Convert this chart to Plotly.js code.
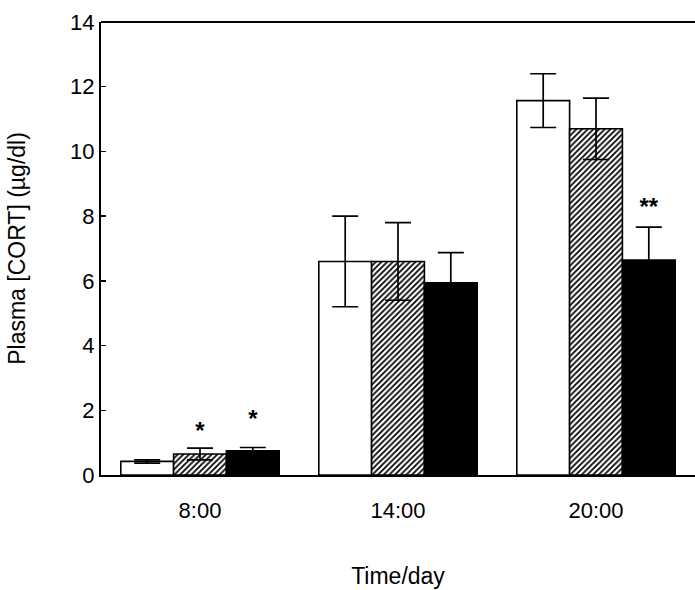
<!DOCTYPE html>
<html>
<head>
<meta charset="utf-8">
<script src="https://cdn.plot.ly/plotly-3.0.1.min.js"></script>
<style>html,body{margin:0;padding:0;background:#fff;}#chart{width:695px;height:590px;}</style>
</head>
<body>
<div id="chart"></div>
<script>
// Data
const categories = ["8:00", "14:00", "20:00"];
const seriesNames = ["Control", "Group B", "Group C"];
const whiteVals = [0.42, 6.6, 11.57];
const whiteErr = [0.05, 1.4, 0.83];
const hatchVals = [0.65, 6.6, 10.7];
const hatchErr = [0.18, 1.2, 0.95];
const blackVals = [0.75, 5.94, 6.64];
const blackErr = [0.1, 0.93, 1.02];
const sigWhiteY = [null, null, null];
const sigWhiteText = ["", "", ""];
const sigHatchY = [1.3, null, null];
const sigHatchText = ["*", "", ""];
const sigBlackY = [1.66, null, 8.22];
const sigBlackText = ["*", "", "**"];
const yTicks = [0, 2, 4, 6, 8, 10, 12, 14];

const FONT = "Liberation Sans, Arial, sans-serif";
function err(arr) {
  return {type: "data", array: arr, visible: true, color: "black", thickness: 1.7, width: 13};
}
const barLine = {color: "black", width: 1.6};
const sigFont = {family: FONT, size: 24, color: "black", weight: "bold"};
const traces = [
  {type: "bar", name: seriesNames[0], x: categories, y: whiteVals, error_y: err(whiteErr),
   marker: {color: "white", line: barLine}},
  {type: "bar", name: seriesNames[1], x: categories, y: hatchVals, error_y: err(hatchErr),
   marker: {color: "white", line: barLine, pattern: {shape: "/", fgcolor: "black", bgcolor: "white", size: 4, solidity: 0.45}}},
  {type: "bar", name: seriesNames[2], x: categories, y: blackVals, error_y: err(blackErr),
   marker: {color: "black", line: barLine}},
  {type: "scatter", mode: "text", x: categories, y: sigWhiteY, text: sigWhiteText, textfont: sigFont, hoverinfo: "skip"},
  {type: "scatter", mode: "text", x: categories, y: sigHatchY, text: sigHatchText, textfont: sigFont, hoverinfo: "skip"},
  {type: "scatter", mode: "text", x: categories, y: sigBlackY, text: sigBlackText, textfont: sigFont, hoverinfo: "skip"}
];

const layout = {
  width: 695, height: 590,
  margin: {l: 101, r: 0, t: 22, b: 115},
  paper_bgcolor: "white", plot_bgcolor: "white",
  showlegend: false,
  barmode: "group", bargap: 0.2, bargroupgap: 0,
  scattermode: "group", scattergap: 0.2,
  font: {family: FONT, size: 21, color: "black"},
  xaxis: {
    type: "category", range: [-0.5, 2.5],
    showline: true, linecolor: "black", linewidth: 2,
    ticks: "", showgrid: false, zeroline: false,
    tickfont: {family: FONT, size: 22, color: "black"},
    ticklabelstandoff: 15,
    title: {text: "Time/day", font: {family: FONT, size: 23, color: "black"}, standoff: 45}
  },
  yaxis: {
    range: [0, 14], tickvals: yTicks,
    showline: true, linecolor: "black", linewidth: 2,
    ticks: "inside", ticklen: 5, tickwidth: 1.5, tickcolor: "black",
    showgrid: false, zeroline: false,
    tickfont: {family: FONT, size: 22, color: "black"},
    title: {text: "Plasma [CORT] (µg/dl)", font: {family: FONT, size: 23, color: "black"}, standoff: 38}
  },
  shapes: [
    {type: "line", xref: "paper", yref: "paper", x0: 0, x1: 1, y0: 1, y1: 1, line: {color: "black", width: 2}}
  ]
};
Plotly.newPlot("chart", traces, layout, {staticPlot: true, displayModeBar: false});
</script>
</body>
</html>
